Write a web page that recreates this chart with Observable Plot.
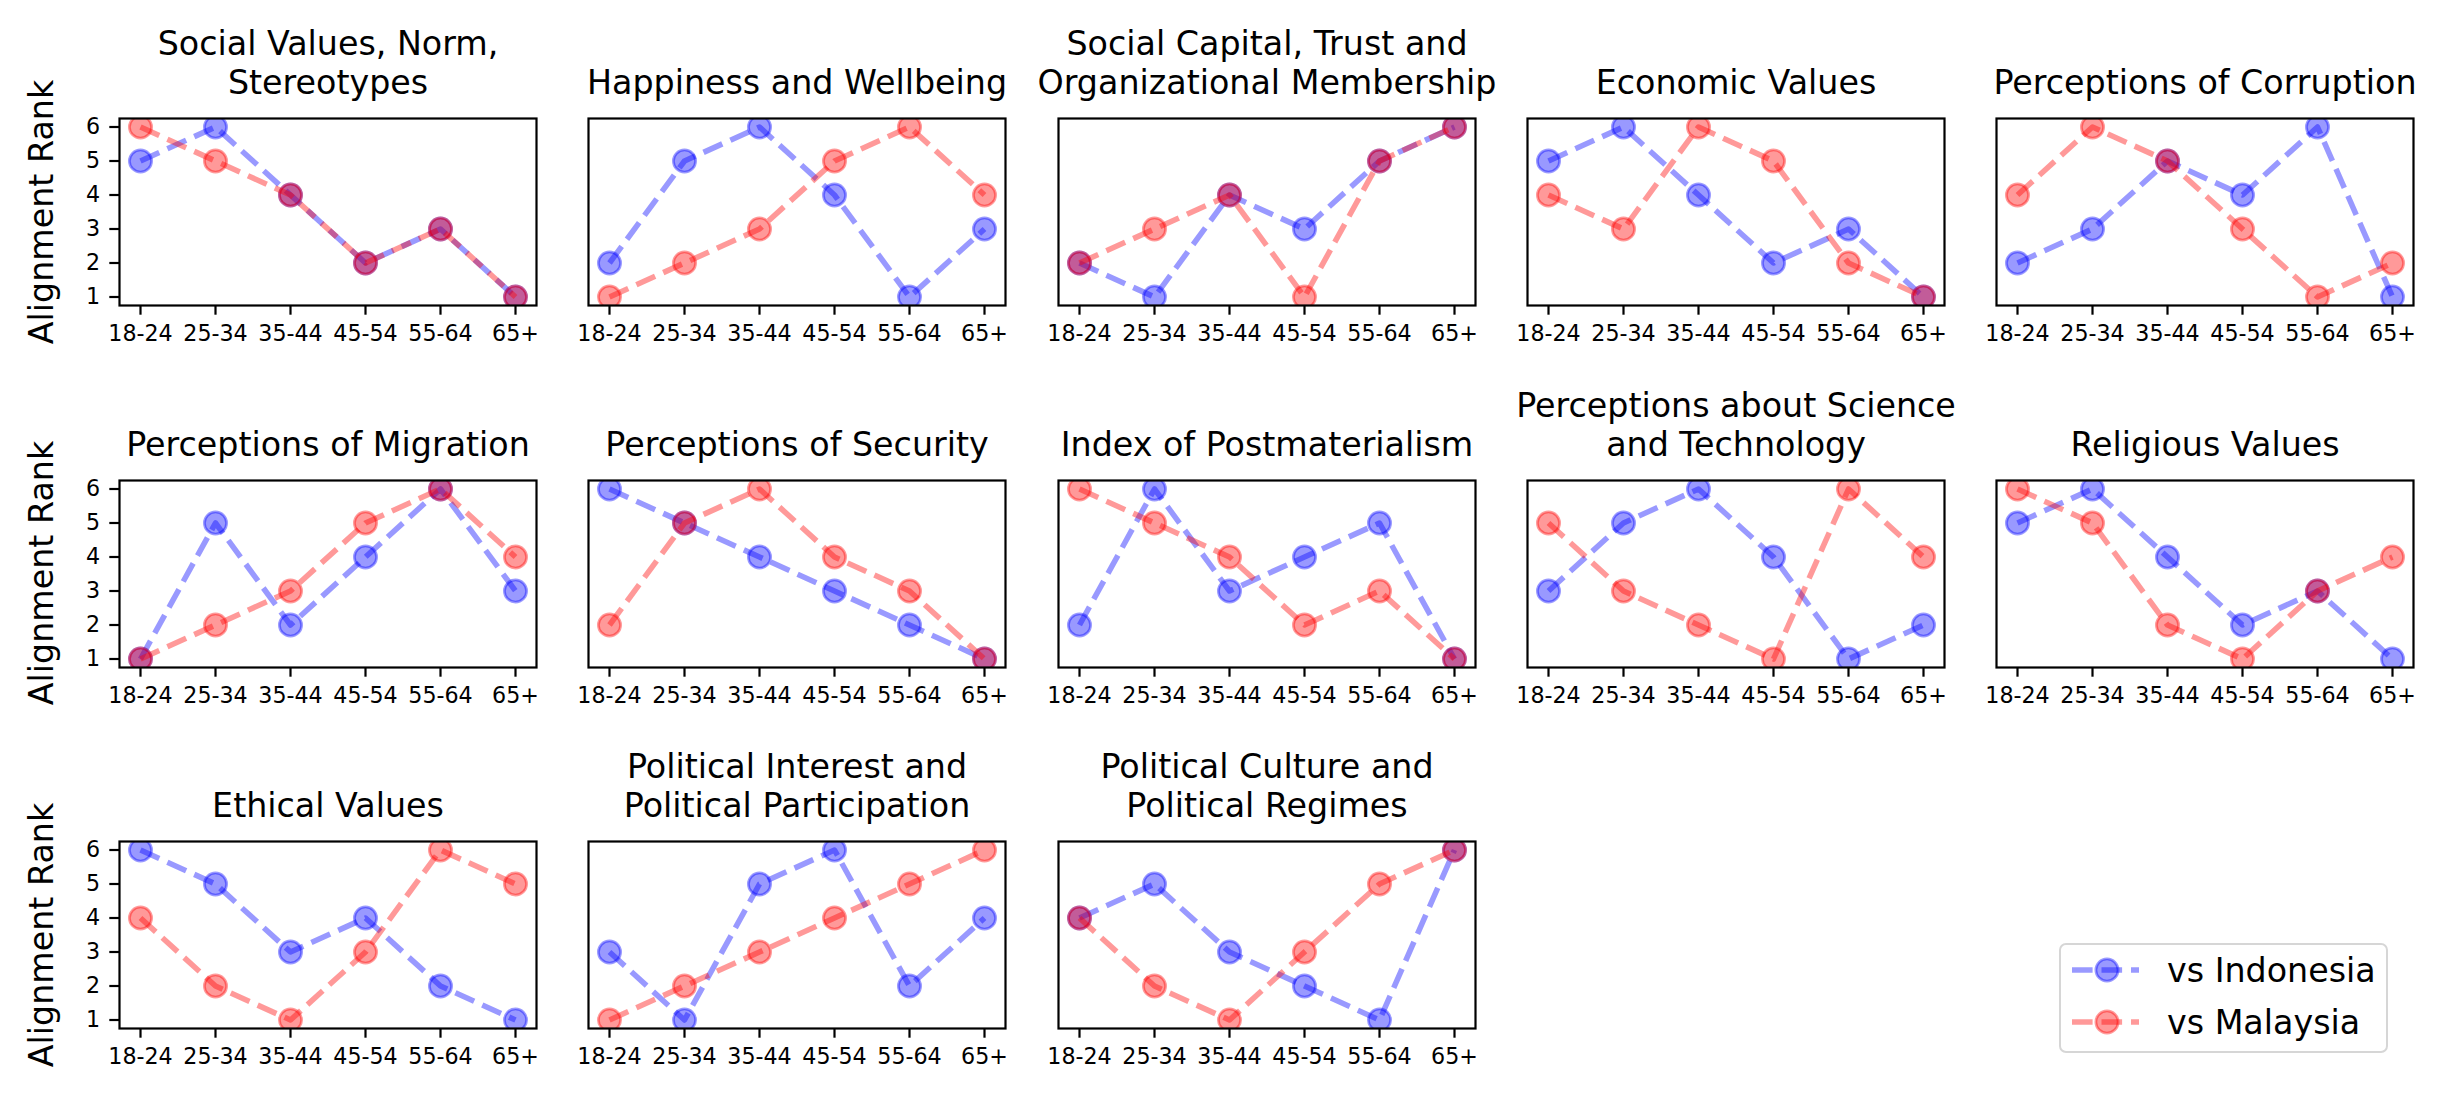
<!DOCTYPE html>
<html>
<head>
<meta charset="utf-8">
<script src="https://cdn.jsdelivr.net/npm/d3@7"></script>
<script src="https://cdn.jsdelivr.net/npm/@observablehq/plot@0.6"></script>
<style>
  body { margin: 0; background: #ffffff; font-family: "DejaVu Sans", sans-serif; }
  #chart { position: relative; width: 2450px; height: 1104px; overflow: hidden; background: #ffffff; }
  .panel { position: absolute; }
  .panel svg { background: transparent !important; overflow: visible; max-width: none !important; }
  .ylabel { position: absolute; font-family: "DejaVu Sans", sans-serif; font-size: 33.3px; color: #000;
            white-space: nowrap; line-height: 1; transform: translate(-50%, -50%) rotate(-90deg); }
  #legend { position: absolute; left: 2059px; top: 943px; width: 329px; height: 110px;
            box-sizing: border-box; border: 2.2px solid #d6d6d6; border-radius: 7px; background: #ffffff; }
</style>
</head>
<body>
<div id="chart"></div>
<script>
// ---- data ----
const ageGroups = ["18-24", "25-34", "35-44", "45-54", "55-64", "65+"];
const rankTicks = [1, 2, 3, 4, 5, 6];
const topics = [
  "Social Values, Norm,\nStereotypes",
  "Happiness and Wellbeing",
  "Social Capital, Trust and\nOrganizational Membership",
  "Economic Values",
  "Perceptions of Corruption",
  "Perceptions of Migration",
  "Perceptions of Security",
  "Index of Postmaterialism",
  "Perceptions about Science\nand Technology",
  "Religious Values",
  "Ethical Values",
  "Political Interest and\nPolitical Participation",
  "Political Culture and\nPolitical Regimes"
];
const vsIndonesia = [
  [5, 6, 4, 2, 3, 1],
  [2, 5, 6, 4, 1, 3],
  [2, 1, 4, 3, 5, 6],
  [5, 6, 4, 2, 3, 1],
  [2, 3, 5, 4, 6, 1],
  [1, 5, 2, 4, 6, 3],
  [6, 5, 4, 3, 2, 1],
  [2, 6, 3, 4, 5, 1],
  [3, 5, 6, 4, 1, 2],
  [5, 6, 4, 2, 3, 1],
  [6, 5, 3, 4, 2, 1],
  [3, 1, 5, 6, 2, 4],
  [4, 5, 3, 2, 1, 6]
];
const vsMalaysia = [
  [6, 5, 4, 2, 3, 1],
  [1, 2, 3, 5, 6, 4],
  [2, 3, 4, 1, 5, 6],
  [4, 3, 6, 5, 2, 1],
  [4, 6, 5, 3, 1, 2],
  [1, 2, 3, 5, 6, 4],
  [2, 5, 6, 4, 3, 1],
  [6, 5, 4, 2, 3, 1],
  [5, 3, 2, 1, 6, 4],
  [6, 5, 2, 1, 3, 4],
  [4, 2, 1, 3, 6, 5],
  [1, 2, 3, 4, 5, 6],
  [4, 2, 1, 3, 5, 6]
];
const seriesNames = ["vs Indonesia", "vs Malaysia"];
const seriesColors = ["#0000ff", "#ff0000"];
const yLabel = "Alignment Rank";

// ---- layout ----
const panelW = 417, panelH = 187;
const colLeft = c => 119 + c * 469.25;
const rowTops = [118, 479.5, 841];
const LW = 5.56, MS = 11.1, EW = 2.78, dash = "20.6,8.9";

const chart = document.getElementById("chart");

function seriesMarks(values, color) {
  return [
    Plot.line(values, {
      x: (d, j) => ageGroups[j], y: d => d,
      stroke: color, strokeOpacity: 0.4, strokeWidth: LW,
      strokeDasharray: dash, strokeLinecap: "butt", strokeLinejoin: "round", clip: true
    }),
    Plot.dot(values, {
      x: (d, j) => ageGroups[j], y: d => d, r: MS,
      fill: color, fillOpacity: 0.4, stroke: color, strokeOpacity: 0.4, strokeWidth: EW, clip: true
    })
  ];
}

topics.forEach((title, i) => {
  const r = Math.floor(i / 5), c = i % 5;
  const mL = c === 0 ? 119 : 40, mR = 40, mT = 100, mB = 50;
  const left = colLeft(c) - mL, top = rowTops[r] - mT;
  const marks = [
    Plot.axisX({tickSize: 9.7, tickPadding: 9.7, fontSize: 22.2, strokeWidth: 2.2, label: null}),
    ...seriesMarks(vsIndonesia[i], seriesColors[0]),
    ...seriesMarks(vsMalaysia[i], seriesColors[1]),
    Plot.frame({stroke: "black", strokeWidth: 2.2}),
    Plot.text([title], {text: d => d, frameAnchor: "top", dy: -25, lineAnchor: "bottom",
      fontSize: 33.3, lineHeight: 1.17, textAnchor: "middle", fill: "black"})
  ];
  if (c === 0) {
    marks.push(Plot.axisY({ticks: rankTicks, tickSize: 9.7, tickPadding: 9.7, fontSize: 22.2,
      strokeWidth: 2.2, label: null, tickFormat: d => String(d)}));
  }
  const svg = Plot.plot({
    width: mL + panelW + mR,
    height: mT + panelH + mB,
    marginLeft: mL, marginRight: mR, marginTop: mT, marginBottom: mB,
    style: {background: "transparent", overflow: "visible", fontFamily: "DejaVu Sans", color: "black"},
    x: {type: "point", domain: ageGroups, padding: 0.25},
    y: {domain: [0.75, 6.25], axis: c === 0 ? undefined : null},
    marks
  });
  const div = document.createElement("div");
  div.className = "panel";
  div.style.left = left + "px";
  div.style.top = top + "px";
  div.appendChild(svg);
  chart.appendChild(div);
  if (c === 0) {
    const yl = document.createElement("div");
    yl.className = "ylabel";
    yl.style.left = "42px";
    yl.style.top = (rowTops[r] + panelH / 2) + "px";
    yl.textContent = yLabel;
    chart.appendChild(yl);
  }
});

// ---- legend ----
const legend = document.createElement("div");
legend.id = "legend";
const ns = "http://www.w3.org/2000/svg";
const lsvg = document.createElementNS(ns, "svg");
lsvg.setAttribute("width", 325);
lsvg.setAttribute("height", 106);
lsvg.style.position = "absolute";
lsvg.style.left = "0px";
lsvg.style.top = "0px";
seriesNames.forEach((name, k) => {
  const cy = 25 + k * 52;
  const color = seriesColors[k];
  const line = document.createElementNS(ns, "line");
  line.setAttribute("x1", 11); line.setAttribute("x2", 78);
  line.setAttribute("y1", cy); line.setAttribute("y2", cy);
  line.setAttribute("stroke", color); line.setAttribute("stroke-opacity", 0.4);
  line.setAttribute("stroke-width", LW); line.setAttribute("stroke-dasharray", dash);
  lsvg.appendChild(line);
  const dot = document.createElementNS(ns, "circle");
  dot.setAttribute("cx", 46); dot.setAttribute("cy", cy); dot.setAttribute("r", MS);
  dot.setAttribute("fill", color); dot.setAttribute("fill-opacity", 0.4);
  dot.setAttribute("stroke", color); dot.setAttribute("stroke-opacity", 0.4);
  dot.setAttribute("stroke-width", EW);
  lsvg.appendChild(dot);
  const t = document.createElementNS(ns, "text");
  t.setAttribute("x", 106); t.setAttribute("y", cy);
  t.setAttribute("dy", "0.35em");
  t.setAttribute("font-size", 33.3);
  t.setAttribute("font-family", "DejaVu Sans");
  t.setAttribute("fill", "black");
  t.textContent = name;
  lsvg.appendChild(t);
});
legend.appendChild(lsvg);
chart.appendChild(legend);
</script>
</body>
</html>
